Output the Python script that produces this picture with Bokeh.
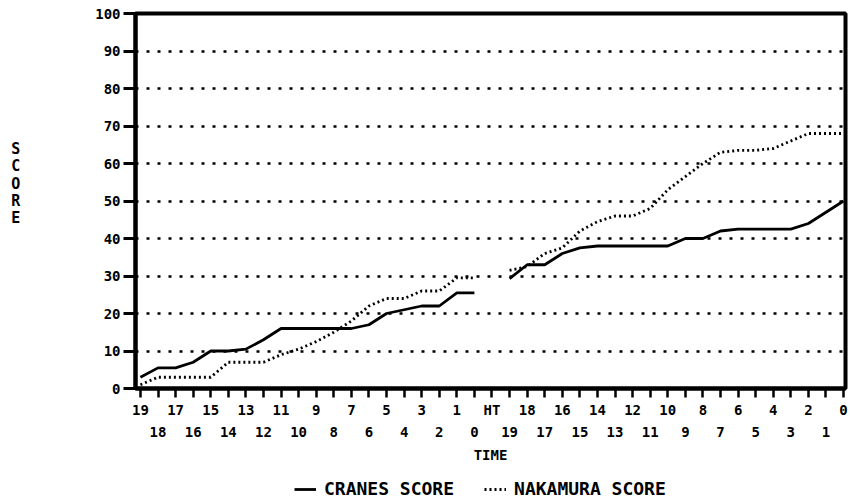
from bokeh.plotting import figure
from bokeh.models import Range1d, FixedTicker, LinearAxis, Legend, LegendItem
from bokeh.layouts import column
from bokeh.embed import file_html
from bokeh.resources import INLINE

# ---- data ----
time_labels = ["19", "18", "17", "16", "15", "14", "13", "12", "11", "10",
               "9", "8", "7", "6", "5", "4", "3", "2", "1", "0",
               "HT",
               "19", "18", "17", "16", "15", "14", "13", "12", "11", "10",
               "9", "8", "7", "6", "5", "4", "3", "2", "1", "0"]

crane_first = [3, 5.5, 5.5, 7, 10, 10, 10.5, 13, 16, 16,
               16, 16, 16, 17, 20, 21, 22, 22, 25.5, 25.5]
crane_second = [29.3, 33, 33, 36, 37.5, 38, 38, 38, 38, 38,
                40, 40, 42, 42.5, 42.5, 42.5, 42.5, 44, 47, 50]
nakamura_first = [1, 3, 3, 3, 3, 7, 7, 7, 9, 10.5,
                  12.5, 15, 18, 22, 24, 24, 26, 26, 29.5, 29.5]
nakamura_second = [31.5, 32.5, 36, 37.5, 42, 44.5, 46, 46, 48, 53,
                   56.5, 60, 63, 63.5, 63.5, 64, 66, 68, 68, 68]

y_ticks = [0, 10, 20, 30, 40, 50, 60, 70, 80, 90, 100]
grid_ticks = [10, 20, 30, 40, 50, 60, 70, 80, 90]
series_names = ["CRANES SCORE", "NAKAMURA SCORE"]

FONT = "DejaVu Sans Mono"
W = 849

n = len(time_labels)
ht_index = time_labels.index("HT")
x_first = list(range(0, ht_index))
x_second = list(range(ht_index + 1, n))

p = figure(width=W, height=465, output_backend="svg", toolbar_location=None,
           x_range=Range1d(-0.28, n - 1 + 0.11), y_range=Range1d(0, 100),
           min_border_left=135, min_border_right=4, min_border_top=13,
           min_border_bottom=74)

p.outline_line_color = "black"
p.outline_line_width = 4
p.background_fill_color = "white"
p.border_fill_color = "white"

# grid
p.xgrid.visible = False
p.ygrid.ticker = FixedTicker(ticks=grid_ticks)
p.ygrid.grid_line_color = "black"
p.ygrid.grid_line_width = 2.5
p.ygrid.grid_line_dash = "3 8"

# y axis
ya = p.yaxis[0]
ya.ticker = FixedTicker(ticks=y_ticks)
ya.axis_line_width = 4
ya.axis_line_color = "black"
ya.major_tick_out = 12
ya.major_tick_in = 0
ya.major_tick_line_width = 3
ya.minor_tick_line_color = None
ya.major_label_standoff = 3
ya.major_label_text_font = FONT
ya.major_label_text_font_style = "bold"
ya.major_label_text_font_size = "14px"
ya.major_label_text_color = "black"
ya.axis_label = "S\nC\nO\nR\nE\n \n "
ya.axis_label_orientation = "horizontal"
ya.axis_label_standoff = 72
ya.axis_label_text_font = FONT
ya.axis_label_text_font_style = "bold"
ya.axis_label_text_font_size = "15px"
ya.axis_label_text_line_height = 0.97
ya.axis_label_text_color = "black"

# x axis (top row of labels, with ticks)
xa = p.xaxis[0]
xa.ticker = FixedTicker(ticks=list(range(n)))
xa.major_label_overrides = {i: (time_labels[i] if i % 2 == 0 else "") for i in range(n)}
xa.axis_line_width = 4
xa.axis_line_color = "black"
xa.major_tick_out = 9
xa.major_tick_in = 0
xa.major_tick_line_width = 2.5
xa.minor_tick_line_color = None
xa.major_label_standoff = 4
xa.major_label_text_font = FONT
xa.major_label_text_font_style = "bold"
xa.major_label_text_font_size = "14px"
xa.major_label_text_color = "black"

# second row of labels
odd = [i for i in range(n) if i % 2 == 1]
xa2 = LinearAxis(ticker=FixedTicker(ticks=odd),
                 major_label_overrides={i: time_labels[i] for i in odd},
                 axis_line_color=None, major_tick_line_color=None,
                 minor_tick_line_color=None,
                 major_label_standoff=0,
                 major_label_text_font=FONT, major_label_text_font_style="bold",
                 major_label_text_font_size="14px", major_label_text_color="black",
                 axis_label="TIME", axis_label_standoff=7,
                 axis_label_text_font=FONT, axis_label_text_font_style="bold",
                 axis_label_text_font_size="14px", axis_label_text_color="black")
p.add_layout(xa2, "below")

# lines
crane_style = dict(line_color="black", line_width=2.8)
nak_style = dict(line_color="black", line_width=2.8, line_dash="2 3")
p.line(x_first, crane_first, **crane_style)
p.line(x_second, crane_second, **crane_style)
p.line(x_first, nakamura_first, **nak_style)
p.line(x_second, nakamura_second, **nak_style)

# legend strip (its lines sit outside its visible range; only the legend shows)
p2 = figure(width=W, height=34, output_backend="svg", toolbar_location=None,
            x_axis_location=None, y_axis_location=None,
            x_range=Range1d(0, 1), y_range=Range1d(-200, -199),
            min_border_left=0, min_border_right=0, min_border_top=0, min_border_bottom=0)
p2.outline_line_color = None
p2.xgrid.visible = False
p2.ygrid.visible = False
lc = p2.line(x_first, crane_first, **crane_style)
ln = p2.line(x_first, nakamura_first, **nak_style)
legend = Legend(items=[LegendItem(label=series_names[0], renderers=[lc]),
                       LegendItem(label=series_names[1], renderers=[ln])],
                orientation="horizontal", location=(159, 0),
                border_line_color=None, background_fill_alpha=0,
                label_text_font=FONT, label_text_font_style="bold",
                label_text_font_size="18px", label_text_color="black",
                glyph_width=22, label_standoff=8, spacing=30,
                padding=4, margin=0)
p2.add_layout(legend)

open("out.html", "w").write(file_html(column(p, p2, spacing=0), INLINE))
